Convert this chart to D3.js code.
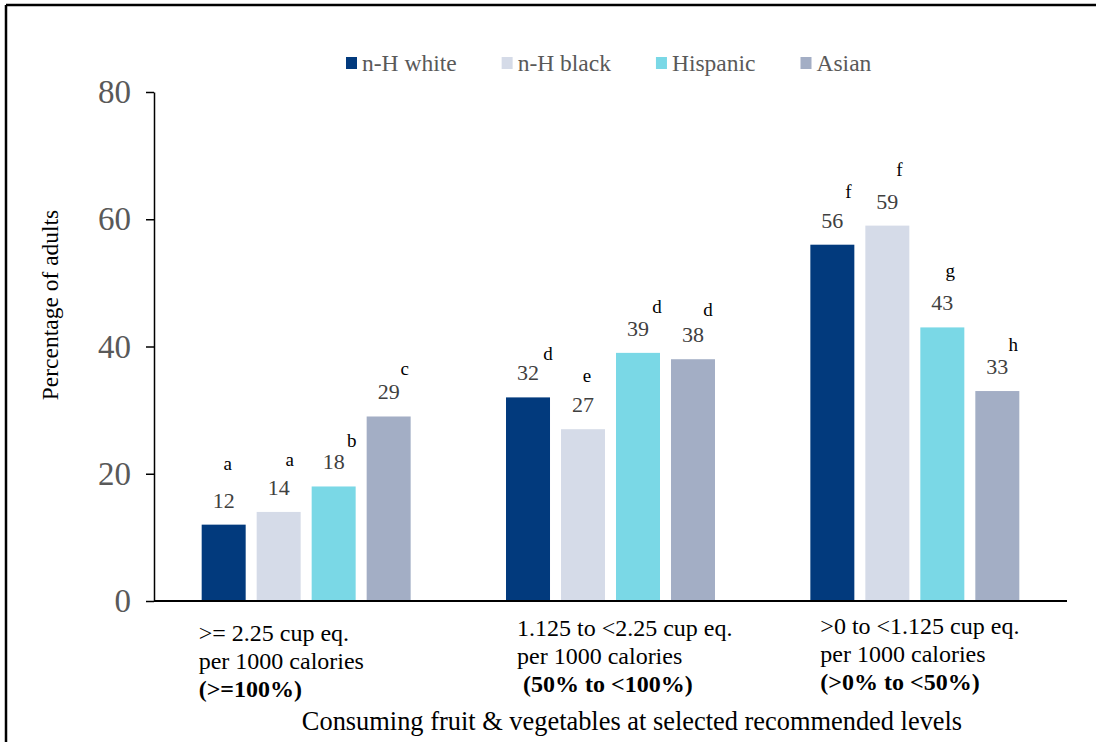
<!DOCTYPE html>
<html>
<head>
<meta charset="utf-8">
<script src="https://cdn.jsdelivr.net/npm/d3@7"></script>
<style>
  html, body { margin: 0; padding: 0; background: #fff; }
  svg { display: block; }
</style>
</head>
<body>
<svg id="chart" width="1096" height="742"></svg>
<script>
// Share of adults by intake level of fruit & vegetables, by race/ethnicity
const levels = ["high", "mid", "low"];
const levelLabels = [
  [">= 2.25 cup eq.", "per 1000 calories", "(>=100%)"],
  ["1.125 to <2.25 cup eq.", "per 1000 calories", " (50% to <100%)"],
  [">0 to <1.125 cup eq.", "per 1000 calories", "(>0% to <50%)"]
];
const groups = ["n-H white", "n-H black", "Hispanic", "Asian"];
const whiteVals    = [12, 32, 56];
const blackVals    = [14, 27, 59];
const hispanicVals = [18, 39, 43];
const asianVals    = [29, 38, 33];
const whiteSig    = ["a", "d", "f"];
const blackSig    = ["a", "e", "f"];
const hispanicSig = ["b", "d", "g"];
const asianSig    = ["c", "d", "h"];
const yTicks = [0, 20, 40, 60, 80];
const yTitle = "Percentage of adults";
const xTitle = "Consuming fruit & vegetables at selected recommended levels";

const seriesVals = [whiteVals, blackVals, hispanicVals, asianVals];
const seriesSig = [whiteSig, blackSig, hispanicSig, asianSig];
const colors = ["#023a7d", "#d5dbe8", "#7ad8e6", "#a3aec5"];
const SERIF = "Liberation Serif";

const svg = d3.select("#chart");

// outer frame (top and left edges)
svg.append("line").attr("x1", 6).attr("y1", 5).attr("x2", 1096).attr("y2", 5)
  .attr("stroke", "#000").attr("stroke-width", 2.5);
svg.append("line").attr("x1", 6).attr("y1", 5).attr("x2", 6).attr("y2", 742)
  .attr("stroke", "#000").attr("stroke-width", 2.5);

const plot = { left: 154, right: 1067, top: 92, bottom: 601 };

const x0 = d3.scaleBand().domain(levels).range([plot.left, plot.right]).padding(0);
const x1 = d3.scaleBand().domain(groups).range([0, x0.bandwidth()])
  .paddingInner(0.2).paddingOuter(0.867);
const y = d3.scaleLinear().domain([0, 80]).range([plot.bottom, plot.top]);

// y axis
const yAxis = svg.append("g")
  .attr("transform", `translate(${plot.left},0)`)
  .call(d3.axisLeft(y).tickValues(yTicks).tickSize(8).tickSizeOuter(0).tickPadding(15));
yAxis.select(".domain").attr("stroke", "#000").attr("stroke-width", 1.5);
yAxis.selectAll(".tick line").attr("stroke", "#000").attr("stroke-width", 1.5);
yAxis.selectAll(".tick text")
  .attr("font-family", SERIF)
  .attr("font-size", 33).attr("fill", "#595959");

// bars
const rows = [];
levels.forEach((lv, i) => {
  groups.forEach((g, j) => {
    rows.push({ level: lv, li: i, group: g, gi: j, value: seriesVals[j][i], sig: seriesSig[j][i] });
  });
});

svg.append("g").selectAll("rect").data(rows).join("rect")
  .attr("x", d => x0(d.level) + x1(d.group))
  .attr("y", d => y(d.value))
  .attr("width", x1.bandwidth())
  .attr("height", d => y(0) - y(d.value))
  .attr("fill", d => colors[d.gi]);

// x baseline
svg.append("line")
  .attr("x1", plot.left).attr("x2", plot.right)
  .attr("y1", y(0)).attr("y2", y(0))
  .attr("stroke", "#000").attr("stroke-width", 2);

// value labels
const cx = d => x0(d.level) + x1(d.group) + x1.bandwidth() / 2;
svg.append("g").selectAll("text").data(rows).join("text")
  .attr("x", cx)
  .attr("y", d => y(d.value) - 17)
  .attr("text-anchor", "middle")
  .attr("font-family", SERIF)
  .attr("font-size", 22)
  .attr("fill", "#404040")
  .text(d => d.value);

// significance letters, nudged around each value label
const sigNudge = [
  [4, -38], [11, -29], [18, -22], [16, -24],
  [20, -20], [4, -30], [19, -23], [15, -26],
  [16, -30], [12, -33], [8, -33], [16, -23]
];
svg.append("g").selectAll("text").data(rows).join("text")
  .attr("x", (d, i) => cx(d) + sigNudge[i][0])
  .attr("y", (d, i) => y(d.value) - 17 + sigNudge[i][1])
  .attr("text-anchor", "middle")
  .attr("font-family", SERIF)
  .attr("font-size", 19)
  .attr("fill", "#000")
  .text(d => d.sig);

// category labels below the axis
const catShift = [-3, 11, 10];
const catTop = [641, 636, 634];
const catBlock = svg.append("g").selectAll("g").data(levels).join("g")
  .attr("transform", (d, i) => `translate(${x0(d) + x1(groups[0]) + catShift[i]},0)`);
catBlock.each(function (d, i) {
  const g = d3.select(this);
  levelLabels[i].forEach((line, k) => {
    g.append("text")
      .attr("x", 0)
      .attr("y", catTop[i] + k * 28)
      .attr("font-family", SERIF)
      .attr("font-size", 24)
      .attr("font-weight", k === 2 ? "bold" : "normal")
      .attr("fill", "#000")
      .style("white-space", "pre")
      .text(line);
  });
});

// axis titles
svg.append("text")
  .attr("transform", `translate(58,305) rotate(-90)`)
  .attr("text-anchor", "middle")
  .attr("font-family", SERIF)
  .attr("font-size", 23.5).attr("fill", "#000")
  .text(yTitle);

svg.append("text")
  .attr("x", 632)
  .attr("y", 730)
  .attr("text-anchor", "middle")
  .attr("font-family", SERIF)
  .attr("font-size", 26.4).attr("fill", "#000")
  .text(xTitle);

// legend
const legend = svg.append("g");
let lx = 346;
groups.forEach((g, j) => {
  const item = legend.append("g").attr("transform", `translate(${lx},0)`);
  item.append("rect").attr("x", 0).attr("y", 57).attr("width", 11).attr("height", 12)
    .attr("fill", colors[j]);
  const t = item.append("text").attr("x", 16).attr("y", 71)
    .attr("font-family", SERIF)
    .attr("font-size", 23.5).attr("fill", "#595959").text(g);
  lx += 16 + t.node().getComputedTextLength() + 45;
});
</script>
</body>
</html>
